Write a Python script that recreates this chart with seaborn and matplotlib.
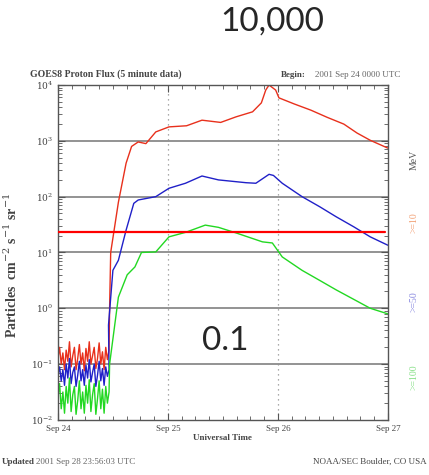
import numpy as np
import pandas as pd
import seaborn as sns
import matplotlib.pyplot as plt
from matplotlib.ticker import MultipleLocator, FixedLocator, LogLocator, NullFormatter

# time in days since 2001 Sep 24 00:00 UTC, fluxes as log10(particles cm-2 s-1 sr-1)
bg_days = [0.000, 0.015, 0.030, 0.045, 0.060, 0.075, 0.090, 0.105, 0.120, 0.135, 0.150,
           0.165, 0.180, 0.195, 0.210, 0.225, 0.240, 0.255, 0.270, 0.285, 0.300, 0.315,
           0.330, 0.345, 0.360, 0.375, 0.390, 0.405, 0.420, 0.435, 0.450, 0.465]
p10_bg = [-0.90, -0.70, -1.00, -0.80, -1.10, -0.75, -0.95, -0.60, -1.05, -0.85, -0.70,
          -1.10, -0.90, -0.65, -1.00, -0.80, -1.12, -0.72, -0.95, -0.60, -1.00, -0.85,
          -0.70, -1.08, -0.90, -0.62, -1.00, -0.78, -1.10, -0.70, -0.92, -0.75]
p50_bg = [-1.20, -1.05, -1.30, -1.10, -1.38, -1.00, -1.25, -0.90, -1.35, -1.15, -1.05,
          -1.40, -1.20, -0.95, -1.30, -1.10, -1.38, -1.02, -1.25, -0.92, -1.32, -1.15,
          -1.00, -1.40, -1.20, -0.95, -1.30, -1.08, -1.38, -1.05, -1.22, -1.10]
p100_bg = [-1.60, -1.35, -1.80, -1.50, -1.88, -1.40, -1.70, -1.25, -1.85, -1.55, -1.40,
           -1.90, -1.65, -1.30, -1.80, -1.50, -1.88, -1.38, -1.70, -1.28, -1.85, -1.55,
           -1.35, -1.90, -1.62, -1.30, -1.80, -1.45, -1.88, -1.40, -1.70, -1.50]

p10_days = [0.470, 0.480, 0.550, 0.620, 0.670, 0.730, 0.800, 0.890, 1.010, 1.170, 1.310,
            1.480, 1.620, 1.770, 1.850, 1.890, 1.920, 1.980, 2.010, 2.150, 2.300, 2.450,
            2.600, 2.720, 2.840, 3.000]
p10_log = [0.00, 1.00, 1.90, 2.60, 2.90, 2.98, 2.95, 3.16, 3.25, 3.27, 3.37,
           3.33, 3.43, 3.52, 3.68, 3.91, 4.00, 3.91, 3.77, 3.66, 3.55, 3.42,
           3.30, 3.14, 3.01, 2.87]

p50_days = [0.460, 0.500, 0.550, 0.620, 0.690, 0.730, 0.890, 1.010, 1.160, 1.310, 1.460,
            1.710, 1.800, 1.920, 1.960, 2.040, 2.220, 2.380, 2.530, 2.690, 2.840, 3.000]
p50_log = [-0.30, 0.68, 0.86, 1.40, 1.88, 1.94, 2.00, 2.15, 2.24, 2.37, 2.30,
           2.25, 2.24, 2.40, 2.38, 2.24, 2.00, 1.82, 1.64, 1.46, 1.28, 1.13]

p100_days = [0.470, 0.550, 0.630, 0.700, 0.760, 0.890, 1.010, 1.160, 1.340, 1.460, 1.620,
             1.860, 1.950, 2.040, 2.220, 2.380, 2.530, 2.690, 2.840, 3.000]
p100_log = [-1.00, 0.20, 0.60, 0.74, 1.00, 1.01, 1.28, 1.36, 1.49, 1.45, 1.35,
            1.19, 1.17, 0.92, 0.68, 0.50, 0.33, 0.16, 0.00, -0.10]

threshold = 23.0
day_labels = ["Sep 24", "Sep 25", "Sep 26", "Sep 27"]
decades = [1e-2, 1e-1, 1e0, 1e1, 1e2, 1e3, 1e4]
decade_labels = ["$10^{-2}$", "$10^{-1}$", "$10^{0}$", "$10^{1}$", "$10^{2}$", "$10^{3}$", "$10^{4}$"]

rows = []
for name, d, v in [(">=10", bg_days + p10_days, p10_bg + p10_log),
                   (">=50", bg_days + p50_days, p50_bg + p50_log),
                   (">=100", bg_days + p100_days, p100_bg + p100_log)]:
    for t, lv in zip(d, v):
        rows.append({"day": t, "flux": 10 ** lv, "channel": name})
df = pd.DataFrame(rows)

sns.set_style("ticks")
serif = ["Liberation Serif", "DejaVu Serif"]
plt.rcParams["font.family"] = serif
plt.rcParams["mathtext.fontset"] = "dejavuserif"

fig = plt.figure(figsize=(4.29, 4.75), dpi=100)
ax = fig.add_axes([0.135, 0.116, 0.769, 0.705])

palette = {">=10": "#e8301c", ">=50": "#2020c8", ">=100": "#22d822"}
sns.lineplot(data=df, x="day", y="flux", hue="channel", palette=palette,
             estimator=None, sort=False, legend=False, lw=1.0, ax=ax)

ax.set_yscale("log")
ax.set_ylim(1e-2, 1e4)
ax.set_xlim(0, 3)

for e in [-1, 0, 1, 2, 3]:
    ax.axhline(10.0 ** e, color="#8a8a8a", lw=1.3, zorder=0)
for d in [1, 2]:
    ax.axvline(d, color="#909090", lw=0.9, ls=(0, (1, 3)), zorder=0)

ax.axhline(threshold, xmin=0.0, xmax=0.99, color="#ff0000", lw=1.6, zorder=5)

ax.set_xticks([0, 1, 2, 3])
ax.set_xticklabels(day_labels)
ax.xaxis.set_minor_locator(MultipleLocator(0.125))
ax.yaxis.set_major_locator(FixedLocator(decades))
ax.set_yticklabels(decade_labels)
ax.yaxis.set_minor_locator(LogLocator(base=10, subs=np.arange(2, 10), numticks=20))
ax.yaxis.set_minor_formatter(NullFormatter())
ax.tick_params(which="both", direction="in", top=True, right=True, colors="#555555",
               labelcolor="#444444", labelsize=6.5)
ax.tick_params(which="major", length=5)
ax.tick_params(which="minor", length=3)
for s in ax.spines.values():
    s.set_color("#555555")
    s.set_linewidth(1.0)

ax.set_xlabel("Universal Time", fontsize=6.5, fontweight="bold", color="#444444", labelpad=1)
ax.set_ylabel("Particles  cm$^{-2}$ s$^{-1}$ sr$^{-1}$", fontsize=10, fontweight="bold",
              color="#444444")
ax.yaxis.set_label_coords(-0.115, 0.46)

fig.text(0.07, 0.838, "GOES8 Proton Flux (5 minute data)", fontsize=7, fontweight="bold",
         color="#444444")
fig.text(0.655, 0.838, "Begin:", fontsize=6.5, fontweight="bold", color="#444444")
fig.text(0.735, 0.838, "2001 Sep 24 0000 UTC", fontsize=6.5, color="#666666")

fig.text(0.965, 0.663, "MeV", fontsize=7, rotation=90, ha="center", va="center", color="#555555")
fig.text(0.965, 0.531, ">=10", fontsize=7, rotation=90, ha="center", va="center", color="#f2a074")
fig.text(0.965, 0.364, ">=50", fontsize=7, rotation=90, ha="center", va="center", color="#8888e0")
fig.text(0.965, 0.206, ">=100", fontsize=7, rotation=90, ha="center", va="center", color="#88e088")

fig.text(0.005, 0.028, "Updated", fontsize=6.5, fontweight="bold", color="#444444", va="center")
fig.text(0.085, 0.028, "2001 Sep 28 23:56:03 UTC", fontsize=6.5, color="#666666", va="center")
fig.text(0.995, 0.028, "NOAA/SEC Boulder, CO USA", fontsize=6.5, ha="right", va="center",
         color="#444444")

overlay = ["Lato", "DejaVu Sans"]
fig.text(0.634, 0.955, "10,000", fontsize=24, ha="center", va="center", family=overlay)
fig.text(0.525, 0.282, "0.1", fontsize=24, ha="center", va="center", family=overlay)

fig.savefig("out.png", dpi=100)
